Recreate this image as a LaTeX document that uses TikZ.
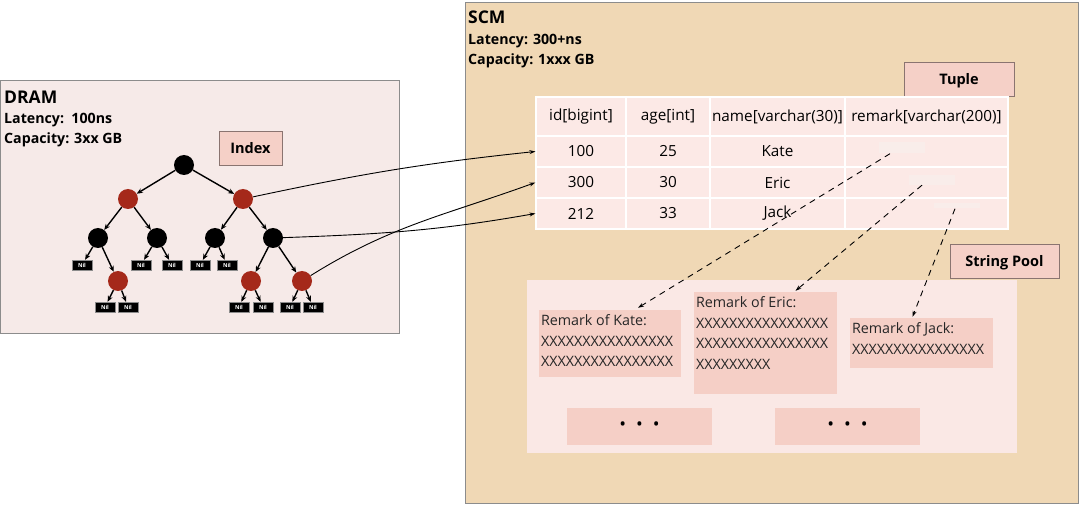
\documentclass[tikz,border=0pt]{standalone}
\usepackage{fontspec}
\setmainfont{Open Sans}
\usetikzlibrary{arrows.meta}
\definecolor{drambg}{HTML}{F6EAE8}
\definecolor{scmbg}{HTML}{F0D8B5}
\definecolor{tagfill}{HTML}{F5D0C7}
\definecolor{cellfill}{HTML}{FCE9E6}
\definecolor{poolfill}{HTML}{FAE8E5}
\definecolor{boxfill}{HTML}{F5CFC6}
\definecolor{faintfill}{HTML}{F9EDEA}
\definecolor{rbred}{HTML}{A5291A}
\definecolor{frame}{HTML}{8C8C8C}
\definecolor{tagframe}{HTML}{8A7470}
\tikzset{
  area/.style={draw=frame, line width=0.9pt},
  tag/.style={draw=tagframe, line width=0.8pt, fill=tagfill, inner sep=0pt, text depth=1pt, font=\fontsize{14.5}{16}\selectfont\bfseries},
  blk/.style={circle, fill=black, minimum size=20pt, inner sep=0pt},
  rbn/.style={circle, fill=rbred, minimum size=20pt, inner sep=0pt},
  nil/.style={fill=black, draw=frame, line width=0.4pt, minimum width=20pt, minimum height=10pt, inner sep=0pt, text=white, font=\fontsize{5.5}{6}\selectfont\bfseries},
  tarr/.style={-{Stealth[length=6pt,width=5pt]}, line width=1.4pt},
  link/.style={-{Stealth[length=6pt,width=4pt]}, line width=0.9pt},
  dlink/.style={-{Stealth[length=6pt,width=4pt]}, line width=0.9pt, dash pattern=on 6pt off 5pt},
  cell/.style={fill=cellfill, draw=white, line width=1.2pt, inner sep=0pt, font=\fontsize{15.3}{17}\selectfont},
  faint/.style={fill=faintfill, inner sep=0pt},
  rbox/.style={fill=boxfill, inner sep=0pt},
  dots/.style={fill=boxfill, inner sep=0pt, font=\fontsize{18}{18}\selectfont},
  rtext/.style={anchor=north west, inner sep=0pt, align=left, text=black!85, font=\fontsize{14.3}{20.5}\selectfont},
  title/.style={anchor=base west, inner sep=0pt, font=\fontsize{17.5}{20}\selectfont\bfseries},
  info/.style={anchor=base west, inner sep=0pt, font=\fontsize{14.2}{16}\selectfont\bfseries}
}
\begin{document}
\begin{tikzpicture}[x=1pt,y=-1pt]
\useasboundingbox (0,0) rectangle (1080,505);
% DRAM
\fill[white] (0,0) rectangle (1080,505);
\draw[area, fill=drambg] (0.5,80) rectangle (399,333);
\node[title] (dt) at (4,104) {DRAM};
\node[info] (dl) at (4,124) {Latency:~~100ns};
\node[info] (dc) at (4,144) {Capacity: 3xx GB};
\node[tag, minimum width=63pt, minimum height=34pt] (index) at (250.5,148) {Index};
% SCM
\draw[area, fill=scmbg] (465,2) rectangle (1078,503);
\node[title] (st) at (468,24) {SCM};
\node[info] (sl) at (468,45) {Latency: 300+ns};
\node[info] (sc) at (468,65) {Capacity: 1xxx GB};
\node[tag, minimum width=110pt, minimum height=34pt] (tuple) at (959,79) {Tuple};
% table
\node[cell, minimum width=90pt, minimum height=39pt] (h1) at (581,116.5) {id[bigint]};
\node[cell, minimum width=84pt, minimum height=39pt] (h2) at (668,116.5) {age[int]};
\node[cell, minimum width=135pt, minimum height=39pt] (h3) at (777.5,116.5) {name[varchar(30)]};
\node[cell, minimum width=163pt, minimum height=39pt] (h4) at (926.5,116.5) {remark[varchar(200)]};
\node[cell, minimum width=90pt, minimum height=31pt] (c11) at (581,151.5) {100};
\node[cell, minimum width=84pt, minimum height=31pt] (c12) at (668,151.5) {25};
\node[cell, minimum width=135pt, minimum height=31pt] (c13) at (777.5,151.5) {Kate};
\node[cell, minimum width=163pt, minimum height=31pt] (c14) at (926.5,151.5) {};
\node[cell, minimum width=90pt, minimum height=31pt] (c21) at (581,182.5) {300};
\node[cell, minimum width=84pt, minimum height=31pt] (c22) at (668,182.5) {30};
\node[cell, minimum width=135pt, minimum height=31pt] (c23) at (777.5,182.5) {Eric};
\node[cell, minimum width=163pt, minimum height=31pt] (c24) at (926.5,182.5) {};
\node[cell, minimum width=90pt, minimum height=31pt] (c31) at (581,213.5) {212};
\node[cell, minimum width=84pt, minimum height=31pt] (c32) at (668,213.5) {33};
\node[cell, minimum width=135pt, minimum height=31pt] (c33) at (777.5,213.5) {Jack};
\node[cell, minimum width=163pt, minimum height=31pt] (c34) at (926.5,213.5) {};
\node[faint, minimum width=46pt, minimum height=11pt] (fk) at (902,148) {};
\node[faint, minimum width=46pt, minimum height=10pt] (fe) at (932,180) {};
\node[faint, minimum width=46pt, minimum height=5pt] (fj) at (957,206) {};
% string pool
\node[tag, minimum width=109pt, minimum height=34pt] (pooltag) at (1004.5,261) {String Pool};
\fill[poolfill] (527,280) rectangle (1017,453);
\node[rbox, minimum width=142pt, minimum height=67pt] (rk) at (610,343.5) {};
\node[rbox, minimum width=143pt, minimum height=102pt] (re) at (765.5,343) {};
\node[rbox, minimum width=143pt, minimum height=50pt] (rj) at (921.5,343) {};
\node[dots, minimum width=145pt, minimum height=37pt] (d1) at (639.5,426.5) {\textbullet\hspace{10pt}\textbullet\hspace{10pt}\textbullet};
\node[dots, minimum width=145pt, minimum height=37pt] (d2) at (847.5,426.5) {\textbullet\hspace{10pt}\textbullet\hspace{10pt}\textbullet};
\node[rtext] (tk) at ([xshift=2pt,yshift=-5pt]rk.north west) {Remark of Kate:\\XXXXXXXXXXXXXXXX\\XXXXXXXXXXXXXXXX};
\node[rtext] (te) at ([xshift=2pt,yshift=-5pt]re.north west) {Remark of Eric:\\XXXXXXXXXXXXXXXX\\XXXXXXXXXXXXXXXX\\XXXXXXXXX};
\node[rtext] (tj) at ([xshift=2pt,yshift=-5pt]rj.north west) {Remark of Jack:\\XXXXXXXXXXXXXXXX};
% dashed links
\draw[dlink] ([xshift=-12pt]fk.south) -- ([xshift=28pt,yshift=2pt]rk.north);
\draw[dlink] ([xshift=-10pt]fe.south) -- ([xshift=30pt,yshift=1pt]re.north);
\draw[dlink] ([xshift=-2pt]fj.south) -- ([xshift=-9pt,yshift=1pt]rj.north);
% tree
\node[blk] (r) at (184,165) {};
\node[rbn] (a) at (128,199) {};
\node[rbn] (b) at (243,199) {};
\node[blk] (a1) at (98,238) {};
\node[blk] (a2) at (157,238) {};
\node[blk] (b1) at (215,238) {};
\node[blk] (b2) at (273,238) {};
\node[nil] (n1) at (82,265) {Nil};
\node[rbn] (a1r) at (118,281) {};
\node[nil] (n2) at (141,265) {Nil};
\node[nil] (n3) at (172,265) {Nil};
\node[nil] (n4) at (200,265) {Nil};
\node[nil] (n5) at (227,265) {Nil};
\node[rbn] (b2l) at (251,281) {};
\node[rbn] (b2r) at (302,281) {};
\node[nil] (n6) at (105,307) {Nil};
\node[nil] (n7) at (128,307) {Nil};
\node[nil] (n8) at (239,307) {Nil};
\node[nil] (n9) at (263,307) {Nil};
\node[nil] (n10) at (290,307) {Nil};
\node[nil] (n11) at (313,307) {Nil};
\foreach \p/\c in {r/a, r/b, a/a1, a/a2, b/b1, b/b2, a1/n1, a1/a1r, a2/n2, a2/n3, b1/n4, b1/n5, b2/b2l, b2/b2r, a1r/n6, a1r/n7, b2l/n8, b2l/n9, b2r/n10, b2r/n11}
  \draw[tarr] (\p) -- (\c);
% tree to table links
\draw[link] (b) to[out=12, in=186] (c11.west);
\draw[link] (b2r) to[out=32, in=200] (c21.west);
\draw[link] (b2) to[out=2, in=190] (c31.west);
\end{tikzpicture}
\end{document}
